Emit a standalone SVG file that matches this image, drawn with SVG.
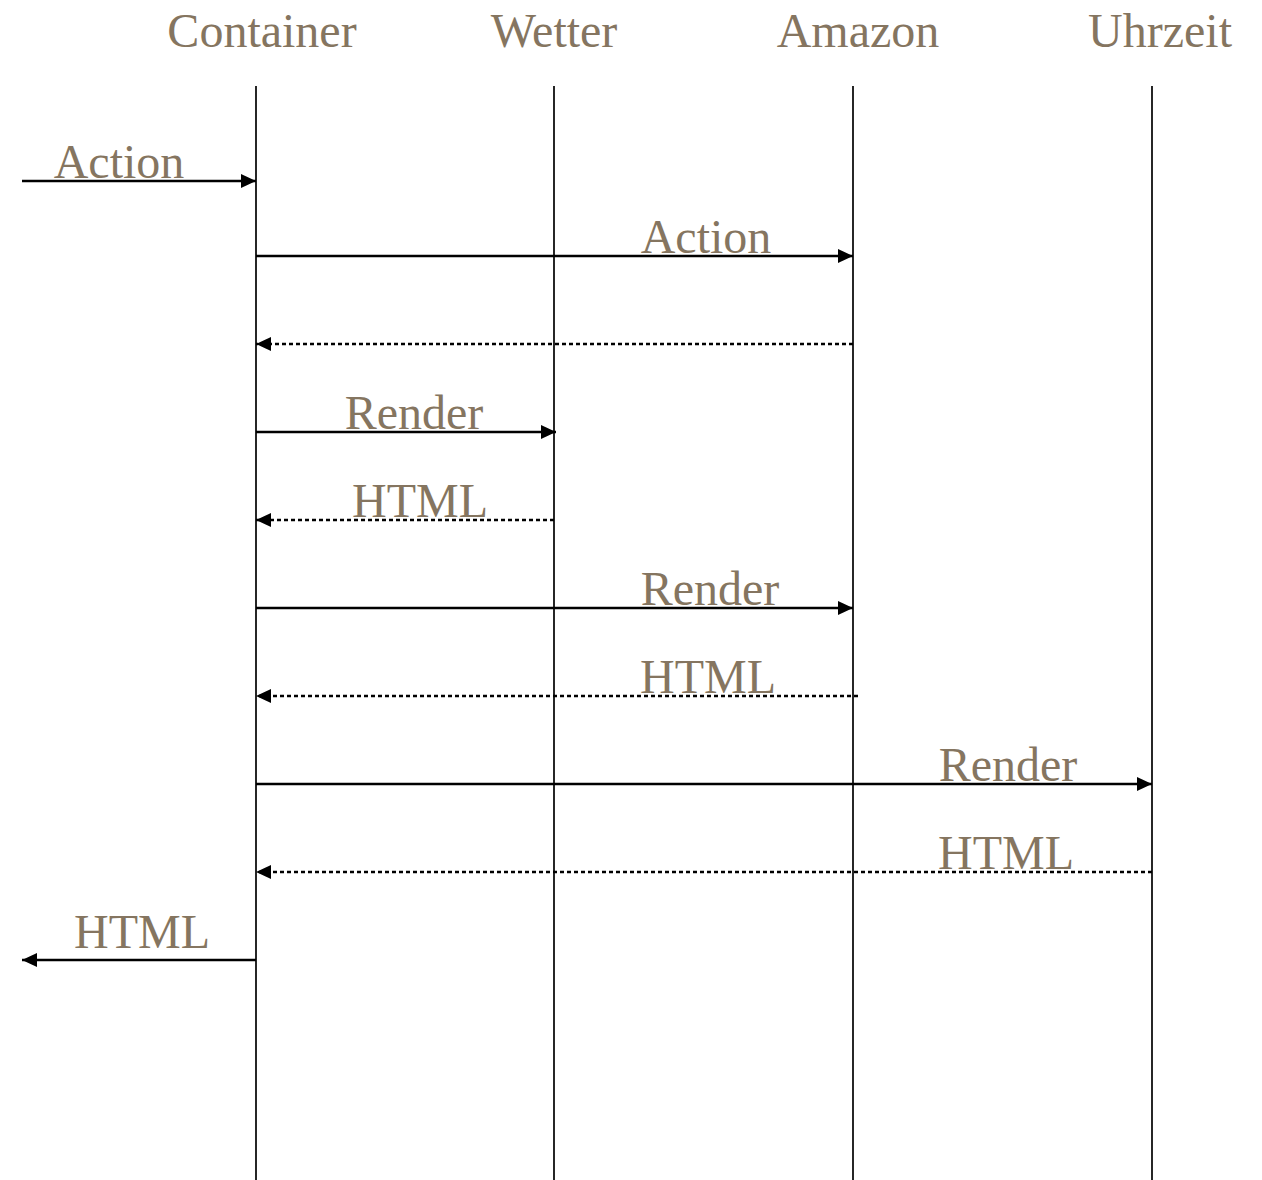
<svg xmlns="http://www.w3.org/2000/svg" width="1262" height="1180" viewBox="0 0 1262 1180">
<style>
text{font-family:"Liberation Serif","Times New Roman",serif;font-size:48px;fill:#857560;text-anchor:middle}
.life{stroke:#000;stroke-width:1.7;fill:none}
.msg{stroke:#000;stroke-width:2.3;fill:none}
.ret{stroke:#000;stroke-width:2.3;fill:none;stroke-dasharray:4 3}
</style>
<defs>
<marker id="ah" viewBox="0 0 15 14" refX="15" refY="7" markerWidth="15" markerHeight="14" markerUnits="userSpaceOnUse" orient="auto">
<path d="M0,0 L15,7 L0,14 Z" fill="#000"/>
</marker>
</defs>
<rect width="1262" height="1180" fill="#fff"/>
<g id="container"><text x="262" y="47">Container</text><line class="life" x1="256" y1="86" x2="256" y2="1180"/></g>
<g id="wetter"><text x="554" y="47">Wetter</text><line class="life" x1="554" y1="86" x2="554" y2="1180"/></g>
<g id="amazon"><text x="858" y="47">Amazon</text><line class="life" x1="853" y1="86" x2="853" y2="1180"/></g>
<g id="uhrzeit"><text x="1160" y="47">Uhrzeit</text><line class="life" x1="1152" y1="86" x2="1152" y2="1180"/></g>
<g id="connectors">
<line class="msg" x1="22" y1="181" x2="256" y2="181" marker-end="url(#ah)"/>
<text x="119" y="178">Action</text>
<line class="msg" x1="256" y1="256" x2="853" y2="256" marker-end="url(#ah)"/>
<text x="706" y="253">Action</text>
<line class="ret" x1="853" y1="344" x2="256" y2="344" marker-end="url(#ah)"/>
<line class="msg" x1="256" y1="432" x2="556" y2="432" marker-end="url(#ah)"/>
<text x="414" y="429">Render</text>
<line class="ret" x1="554" y1="520" x2="256" y2="520" marker-end="url(#ah)"/>
<text x="420" y="517">HTML</text>
<line class="msg" x1="256" y1="608" x2="853" y2="608" marker-end="url(#ah)"/>
<text x="710" y="605">Render</text>
<line class="ret" x1="858" y1="696" x2="256" y2="696" marker-end="url(#ah)"/>
<text x="708" y="693">HTML</text>
<line class="msg" x1="256" y1="784" x2="1152" y2="784" marker-end="url(#ah)"/>
<text x="1008" y="781">Render</text>
<line class="ret" x1="1152" y1="872" x2="256" y2="872" marker-end="url(#ah)"/>
<text x="1006" y="869">HTML</text>
<line class="msg" x1="256" y1="960" x2="22" y2="960" marker-end="url(#ah)"/>
<text x="142" y="948">HTML</text>
</g>
</svg>
